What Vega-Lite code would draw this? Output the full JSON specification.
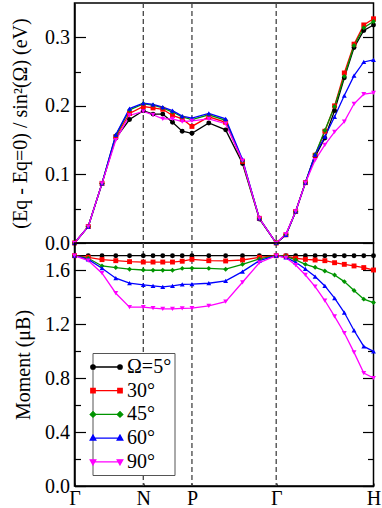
{
"$schema": "https://vega.github.io/schema/vega-lite/v6.json",
"padding": {"left": 9.5, "top": 1, "right": 5, "bottom": 0},
"spacing": 0,
"bounds": "flush",
"datasets": {
"v": [{"k": 0.7071}, {"k": 1.2071}, {"k": 2.0731}],
"d": [
{"s":"Ω=5°","k":0,"e":0,"m":1.706},{"s":"Ω=5°","k":0.1414,"e":0.024,"m":1.706},{"s":"Ω=5°","k":0.2828,"e":0.087,"m":1.706},{"s":"Ω=5°","k":0.4243,"e":0.153,"m":1.706},{"s":"Ω=5°","k":0.5657,"e":0.180,"m":1.706},{"s":"Ω=5°","k":0.7071,"e":0.193,"m":1.706},{"s":"Ω=5°","k":0.8071,"e":0.188,"m":1.706},{"s":"Ω=5°","k":0.9071,"e":0.188,"m":1.706},{"s":"Ω=5°","k":1.0071,"e":0.176,"m":1.706},{"s":"Ω=5°","k":1.1071,"e":0.163,"m":1.706},{"s":"Ω=5°","k":1.2071,"e":0.160,"m":1.706},{"s":"Ω=5°","k":1.3803,"e":0.175,"m":1.706},{"s":"Ω=5°","k":1.5535,"e":0.165,"m":1.706},{"s":"Ω=5°","k":1.7267,"e":0.116,"m":1.706},{"s":"Ω=5°","k":1.8999,"e":0.035,"m":1.706},{"s":"Ω=5°","k":2.0731,"e":0,"m":1.706},{"s":"Ω=5°","k":2.1731,"e":0.012,"m":1.706},{"s":"Ω=5°","k":2.2731,"e":0.046,"m":1.706},{"s":"Ω=5°","k":2.3731,"e":0.088,"m":1.706},{"s":"Ω=5°","k":2.4731,"e":0.126,"m":1.706},{"s":"Ω=5°","k":2.5731,"e":0.153,"m":1.706},{"s":"Ω=5°","k":2.6731,"e":0.193,"m":1.706},{"s":"Ω=5°","k":2.7731,"e":0.241,"m":1.706},{"s":"Ω=5°","k":2.8731,"e":0.285,"m":1.706},{"s":"Ω=5°","k":2.9731,"e":0.310,"m":1.706},{"s":"Ω=5°","k":3.0731,"e":0.318,"m":1.706},
{"s":"30°","k":0,"e":0,"m":1.706},{"s":"30°","k":0.1414,"e":0.024,"m":1.694},{"s":"30°","k":0.2828,"e":0.087,"m":1.677},{"s":"30°","k":0.4243,"e":0.155,"m":1.669},{"s":"30°","k":0.5657,"e":0.189,"m":1.662},{"s":"30°","k":0.7071,"e":0.199,"m":1.659},{"s":"30°","k":0.8071,"e":0.197,"m":1.659},{"s":"30°","k":0.9071,"e":0.195,"m":1.659},{"s":"30°","k":1.0071,"e":0.186,"m":1.659},{"s":"30°","k":1.1071,"e":0.181,"m":1.665},{"s":"30°","k":1.2071,"e":0.170,"m":1.679},{"s":"30°","k":1.3803,"e":0.184,"m":1.669},{"s":"30°","k":1.5535,"e":0.176,"m":1.667},{"s":"30°","k":1.7267,"e":0.119,"m":1.674},{"s":"30°","k":1.8999,"e":0.036,"m":1.694},{"s":"30°","k":2.0731,"e":0,"m":1.706},{"s":"30°","k":2.1731,"e":0.012,"m":1.703},{"s":"30°","k":2.2731,"e":0.046,"m":1.687},{"s":"30°","k":2.3731,"e":0.088,"m":1.679},{"s":"30°","k":2.4731,"e":0.128,"m":1.674},{"s":"30°","k":2.5731,"e":0.163,"m":1.669},{"s":"30°","k":2.6731,"e":0.200,"m":1.654},{"s":"30°","k":2.7731,"e":0.248,"m":1.642},{"s":"30°","k":2.8731,"e":0.290,"m":1.630},{"s":"30°","k":2.9731,"e":0.318,"m":1.618},{"s":"30°","k":3.0731,"e":0.327,"m":1.600},
{"s":"45°","k":0,"e":0,"m":1.706},{"s":"45°","k":0.1414,"e":0.024,"m":1.687},{"s":"45°","k":0.2828,"e":0.087,"m":1.630},{"s":"45°","k":0.4243,"e":0.157,"m":1.618},{"s":"45°","k":0.5657,"e":0.194,"m":1.606},{"s":"45°","k":0.7071,"e":0.203,"m":1.600},{"s":"45°","k":0.8071,"e":0.201,"m":1.598},{"s":"45°","k":0.9071,"e":0.197,"m":1.598},{"s":"45°","k":1.0071,"e":0.191,"m":1.598},{"s":"45°","k":1.1071,"e":0.184,"m":1.612},{"s":"45°","k":1.2071,"e":0.180,"m":1.613},{"s":"45°","k":1.3803,"e":0.187,"m":1.612},{"s":"45°","k":1.5535,"e":0.179,"m":1.606},{"s":"45°","k":1.7267,"e":0.120,"m":1.642},{"s":"45°","k":1.8999,"e":0.036,"m":1.682},{"s":"45°","k":2.0731,"e":0,"m":1.706},{"s":"45°","k":2.1731,"e":0.012,"m":1.700},{"s":"45°","k":2.2731,"e":0.046,"m":1.675},{"s":"45°","k":2.3731,"e":0.088,"m":1.642},{"s":"45°","k":2.4731,"e":0.129,"m":1.620},{"s":"45°","k":2.5731,"e":0.164,"m":1.593},{"s":"45°","k":2.6731,"e":0.199,"m":1.563},{"s":"45°","k":2.7731,"e":0.243,"m":1.514},{"s":"45°","k":2.8731,"e":0.288,"m":1.448},{"s":"45°","k":2.9731,"e":0.314,"m":1.384},{"s":"45°","k":3.0731,"e":0.323,"m":1.359},
{"s":"60°","k":0,"e":0,"m":1.706},{"s":"60°","k":0.1414,"e":0.024,"m":1.679},{"s":"60°","k":0.2828,"e":0.087,"m":1.613},{"s":"60°","k":0.4243,"e":0.158,"m":1.539},{"s":"60°","k":0.5657,"e":0.196,"m":1.502},{"s":"60°","k":0.7071,"e":0.204,"m":1.490},{"s":"60°","k":0.8071,"e":0.202,"m":1.482},{"s":"60°","k":0.9071,"e":0.198,"m":1.475},{"s":"60°","k":1.0071,"e":0.193,"m":1.482},{"s":"60°","k":1.1071,"e":0.185,"m":1.494},{"s":"60°","k":1.2071,"e":0.182,"m":1.495},{"s":"60°","k":1.3803,"e":0.189,"m":1.502},{"s":"60°","k":1.5535,"e":0.181,"m":1.519},{"s":"60°","k":1.7267,"e":0.122,"m":1.588},{"s":"60°","k":1.8999,"e":0.036,"m":1.669},{"s":"60°","k":2.0731,"e":0,"m":1.706},{"s":"60°","k":2.1731,"e":0.012,"m":1.694},{"s":"60°","k":2.2731,"e":0.046,"m":1.657},{"s":"60°","k":2.3731,"e":0.088,"m":1.608},{"s":"60°","k":2.4731,"e":0.129,"m":1.551},{"s":"60°","k":2.5731,"e":0.155,"m":1.482},{"s":"60°","k":2.6731,"e":0.184,"m":1.391},{"s":"60°","k":2.7731,"e":0.215,"m":1.285},{"s":"60°","k":2.8731,"e":0.244,"m":1.152},{"s":"60°","k":2.9731,"e":0.264,"m":1.034},{"s":"60°","k":3.0731,"e":0.267,"m":0.997},
{"s":"90°","k":0,"e":0,"m":1.706},{"s":"90°","k":0.1414,"e":0.024,"m":1.670},{"s":"90°","k":0.2828,"e":0.087,"m":1.576},{"s":"90°","k":0.4243,"e":0.150,"m":1.428},{"s":"90°","k":0.5657,"e":0.186,"m":1.325},{"s":"90°","k":0.7071,"e":0.192,"m":1.325},{"s":"90°","k":0.8071,"e":0.187,"m":1.317},{"s":"90°","k":0.9071,"e":0.181,"m":1.312},{"s":"90°","k":1.0071,"e":0.181,"m":1.312},{"s":"90°","k":1.1071,"e":0.177,"m":1.315},{"s":"90°","k":1.2071,"e":0.178,"m":1.317},{"s":"90°","k":1.3803,"e":0.181,"m":1.335},{"s":"90°","k":1.5535,"e":0.174,"m":1.366},{"s":"90°","k":1.7267,"e":0.120,"m":1.509},{"s":"90°","k":1.8999,"e":0.036,"m":1.654},{"s":"90°","k":2.0731,"e":0,"m":1.706},{"s":"90°","k":2.1731,"e":0.013,"m":1.690},{"s":"90°","k":2.2731,"e":0.046,"m":1.637},{"s":"90°","k":2.3731,"e":0.088,"m":1.563},{"s":"90°","k":2.4731,"e":0.121,"m":1.477},{"s":"90°","k":2.5731,"e":0.143,"m":1.374},{"s":"90°","k":2.6731,"e":0.162,"m":1.256},{"s":"90°","k":2.7731,"e":0.177,"m":1.133},{"s":"90°","k":2.8731,"e":0.203,"m":0.990},{"s":"90°","k":2.9731,"e":0.217,"m":0.837},{"s":"90°","k":3.0731,"e":0.219,"m":0.800}
]
},
"config": {
"view": {"stroke": "black", "strokeWidth": 1.5},
"font": "Liberation Serif",
"axis": {"labelFont": "Liberation Serif", "labelFontSize": 20, "labelColor": "black", "titleFont": "Liberation Serif", "titleFontSize": 20, "titleFontWeight": "normal", "titleColor": "black", "domainColor": "black", "domainWidth": 1.5, "tickColor": "black", "tickWidth": 1.2, "grid": false, "labelOverlap": false, "labelFlush": false}
},
"vconcat": [
{
"width": 299, "height": 240,
"layer": [
{"layer": [
{"data": {"name": "v"}, "mark": {"type": "rule", "color": "#444444", "strokeDash": [5, 3], "strokeWidth": 1.3},
 "encoding": {"x": {"field": "k", "type": "quantitative", "scale": {"domain": [0, 3.0731], "nice": false, "zero": false}, "axis": null}}},
{"data": {"name": "d"}, "mark": {"type": "line", "strokeWidth": 1.3},
 "encoding": {
  "x": {"field": "k", "type": "quantitative", "scale": {"domain": [0, 3.0731], "nice": false, "zero": false}, "axis": null},
  "y": {"field": "e", "type": "quantitative", "scale": {"domain": [0, 0.35], "nice": false, "zero": false},
   "axis": {"orient": "left", "values": [0, 0.1, 0.2, 0.3], "format": ".1f", "tickSize": -11, "labelPadding": 16, "title": "(Eq - Eq=0) / sin²(Ω) (eV)", "titlePadding": 14, "minExtent": 30, "maxExtent": 30}},
  "color": {"field": "s", "type": "nominal", "scale": {"domain": ["Ω=5°", "30°", "45°", "60°", "90°"], "range": ["#000000", "#ff0000", "#009400", "#0000ff", "#ff00ff"]},
   "legend": {"title": null, "orient": "none", "legendX": 18, "legendY": 350, "direction": "vertical", "padding": 3, "strokeColor": "#555555", "fillColor": "white", "labelFont": "Liberation Serif", "labelFontSize": 20, "labelColor": "black", "symbolSize": 400, "labelOffset": 9.5, "rowPadding": 2.7, "symbolStrokeWidth": 1.3, "symbolOpacity": 1,
    "encode": {"symbols": {"update": {
     "shape": {"signal": "datum.value === 'Ω=5°' ? 'M-1.35,0H1.35M-1.13,0A0.22,0.22,0,1,1,-1.57,0A0.22,0.22,0,1,1,-1.13,0ZM1.57,0A0.22,0.22,0,1,1,1.13,0A0.22,0.22,0,1,1,1.57,0Z' : datum.value === '30°' ? 'M-1.35,0H1.35M-1.57,-0.22H-1.13V0.22H-1.57ZM1.13,-0.22H1.57V0.22H1.13Z' : datum.value === '45°' ? 'M-1.35,0H1.35M-1.35,-0.28L-1.07,0L-1.35,0.28L-1.63,0ZM1.35,-0.28L1.63,0L1.35,0.28L1.07,0Z' : datum.value === '60°' ? 'M-1.35,0H1.35M-1.35,-0.3L-1.07,0.2L-1.63,0.2ZM1.35,-0.3L1.63,0.2L1.07,0.2Z' : 'M-1.35,0H1.35M-1.35,0.3L-1.07,-0.2L-1.63,-0.2ZM1.35,0.3L1.63,-0.2L1.07,-0.2Z'"},
     "fill": {"signal": "datum.value === 'Ω=5°' ? '#000000' : datum.value === '30°' ? '#ff0000' : datum.value === '45°' ? '#009400' : datum.value === '60°' ? '#0000ff' : '#ff00ff'"},
     "stroke": {"signal": "datum.value === 'Ω=5°' ? '#000000' : datum.value === '30°' ? '#ff0000' : datum.value === '45°' ? '#009400' : datum.value === '60°' ? '#0000ff' : '#ff00ff'"},
     "strokeWidth": {"value": 1.3}, "opacity": {"value": 1}}}}}}
 }},
{"data": {"name": "d"}, "mark": {"type": "point", "filled": true, "opacity": 1, "size": 24},
 "encoding": {
  "x": {"field": "k", "type": "quantitative", "scale": {"domain": [0, 3.0731], "nice": false, "zero": false}, "axis": null},
  "y": {"field": "e", "type": "quantitative", "scale": {"domain": [0, 0.35], "nice": false, "zero": false}},
  "color": {"field": "s", "type": "nominal", "scale": {"domain": ["Ω=5°", "30°", "45°", "60°", "90°"], "range": ["#000000", "#ff0000", "#009400", "#0000ff", "#ff00ff"]}},
  "shape": {"condition": [{"test": "datum.s === '30°'", "value": "square"}, {"test": "datum.s === '45°'", "value": "diamond"}, {"test": "datum.s === '60°'", "value": "triangle-up"}, {"test": "datum.s === '90°'", "value": "triangle-down"}], "value": "circle"}
 }}
]},
{"data": {"name": "d"}, "mark": {"type": "point", "opacity": 0},
 "encoding": {"y": {"field": "e", "type": "quantitative", "scale": {"domain": [0, 0.35], "nice": false, "zero": false},
  "axis": {"orient": "left", "values": [0.05, 0.15, 0.25], "tickSize": -6, "labels": false, "domain": false, "title": null, "minExtent": 0, "maxExtent": 0}}}},
{"data": {"name": "d"}, "mark": {"type": "point", "opacity": 0},
 "encoding": {"y": {"field": "e", "type": "quantitative", "scale": {"domain": [0, 0.35], "nice": false, "zero": false},
  "axis": {"orient": "right", "values": [0, 0.1, 0.2, 0.3], "tickSize": -11, "labels": false, "domain": false, "title": null, "minExtent": 0, "maxExtent": 0}}}},
{"data": {"name": "d"}, "mark": {"type": "point", "opacity": 0},
 "encoding": {"y": {"field": "e", "type": "quantitative", "scale": {"domain": [0, 0.35], "nice": false, "zero": false},
  "axis": {"orient": "right", "values": [0.05, 0.15, 0.25], "tickSize": -6, "labels": false, "domain": false, "title": null, "minExtent": 0, "maxExtent": 0}}}}
],
"resolve": {"scale": {"y": "independent"}}
},
{
"width": 299, "height": 243,
"layer": [
{"layer": [
{"data": {"name": "v"}, "mark": {"type": "rule", "color": "#444444", "strokeDash": [5, 3], "strokeWidth": 1.3},
 "encoding": {"x": {"field": "k", "type": "quantitative", "scale": {"domain": [0, 3.0731], "nice": false, "zero": false},
  "axis": {"orient": "bottom", "values": [0, 0.7071, 1.2071, 2.0731, 3.0731], "labelExpr": "datum.value < 0.1 ? 'Γ' : datum.value < 1 ? 'N' : datum.value < 1.5 ? 'P' : datum.value < 2.5 ? 'Γ' : 'H'", "tickSize": -3, "labelPadding": 5, "title": null}}}},
{"data": {"name": "d"}, "mark": {"type": "line", "strokeWidth": 1.3},
 "encoding": {
  "x": {"field": "k", "type": "quantitative", "scale": {"domain": [0, 3.0731], "nice": false, "zero": false},
   "axis": {"orient": "bottom", "values": [0, 0.7071, 1.2071, 2.0731, 3.0731], "labelExpr": "datum.value < 0.1 ? 'Γ' : datum.value < 1 ? 'N' : datum.value < 1.5 ? 'P' : datum.value < 2.5 ? 'Γ' : 'H'", "tickSize": -3, "labelPadding": 5, "title": null}},
  "y": {"field": "m", "type": "quantitative", "scale": {"domain": [0, 1.8], "nice": false, "zero": false},
   "axis": {"orient": "left", "values": [0, 0.4, 0.8, 1.2, 1.6], "format": ".1f", "tickSize": -11, "labelPadding": 16, "title": "Moment (μB)", "titlePadding": 11, "minExtent": 30, "maxExtent": 30}},
  "color": {"field": "s", "type": "nominal", "scale": {"domain": ["Ω=5°", "30°", "45°", "60°", "90°"], "range": ["#000000", "#ff0000", "#009400", "#0000ff", "#ff00ff"]},
   "legend": {"title": null, "orient": "none", "legendX": 18, "legendY": 350, "direction": "vertical", "padding": 3, "strokeColor": "#555555", "fillColor": "white", "labelFont": "Liberation Serif", "labelFontSize": 20, "labelColor": "black", "symbolSize": 400, "labelOffset": 9.5, "rowPadding": 2.7, "symbolStrokeWidth": 1.3, "symbolOpacity": 1,
    "encode": {"symbols": {"update": {
     "shape": {"signal": "datum.value === 'Ω=5°' ? 'M-1.35,0H1.35M-1.13,0A0.22,0.22,0,1,1,-1.57,0A0.22,0.22,0,1,1,-1.13,0ZM1.57,0A0.22,0.22,0,1,1,1.13,0A0.22,0.22,0,1,1,1.57,0Z' : datum.value === '30°' ? 'M-1.35,0H1.35M-1.57,-0.22H-1.13V0.22H-1.57ZM1.13,-0.22H1.57V0.22H1.13Z' : datum.value === '45°' ? 'M-1.35,0H1.35M-1.35,-0.28L-1.07,0L-1.35,0.28L-1.63,0ZM1.35,-0.28L1.63,0L1.35,0.28L1.07,0Z' : datum.value === '60°' ? 'M-1.35,0H1.35M-1.35,-0.3L-1.07,0.2L-1.63,0.2ZM1.35,-0.3L1.63,0.2L1.07,0.2Z' : 'M-1.35,0H1.35M-1.35,0.3L-1.07,-0.2L-1.63,-0.2ZM1.35,0.3L1.63,-0.2L1.07,-0.2Z'"},
     "fill": {"signal": "datum.value === 'Ω=5°' ? '#000000' : datum.value === '30°' ? '#ff0000' : datum.value === '45°' ? '#009400' : datum.value === '60°' ? '#0000ff' : '#ff00ff'"},
     "stroke": {"signal": "datum.value === 'Ω=5°' ? '#000000' : datum.value === '30°' ? '#ff0000' : datum.value === '45°' ? '#009400' : datum.value === '60°' ? '#0000ff' : '#ff00ff'"},
     "strokeWidth": {"value": 1.3}, "opacity": {"value": 1}}}}}}
 }},
{"data": {"name": "d"}, "mark": {"type": "point", "filled": true, "opacity": 1, "size": 24},
 "encoding": {
  "x": {"field": "k", "type": "quantitative", "scale": {"domain": [0, 3.0731], "nice": false, "zero": false},
   "axis": {"orient": "bottom", "values": [0, 0.7071, 1.2071, 2.0731, 3.0731], "labelExpr": "datum.value < 0.1 ? 'Γ' : datum.value < 1 ? 'N' : datum.value < 1.5 ? 'P' : datum.value < 2.5 ? 'Γ' : 'H'", "tickSize": -3, "labelPadding": 5, "title": null}},
  "y": {"field": "m", "type": "quantitative", "scale": {"domain": [0, 1.8], "nice": false, "zero": false}},
  "color": {"field": "s", "type": "nominal", "scale": {"domain": ["Ω=5°", "30°", "45°", "60°", "90°"], "range": ["#000000", "#ff0000", "#009400", "#0000ff", "#ff00ff"]}},
  "shape": {"condition": [{"test": "datum.s === '30°'", "value": "square"}, {"test": "datum.s === '45°'", "value": "diamond"}, {"test": "datum.s === '60°'", "value": "triangle-up"}, {"test": "datum.s === '90°'", "value": "triangle-down"}], "value": "circle"}
 }}
]},
{"data": {"name": "d"}, "mark": {"type": "point", "opacity": 0},
 "encoding": {"y": {"field": "m", "type": "quantitative", "scale": {"domain": [0, 1.8], "nice": false, "zero": false},
  "axis": {"orient": "left", "values": [0.2, 0.6, 1.0, 1.4], "tickSize": -6, "labels": false, "domain": false, "title": null, "minExtent": 0, "maxExtent": 0}}}},
{"data": {"name": "d"}, "mark": {"type": "point", "opacity": 0},
 "encoding": {"y": {"field": "m", "type": "quantitative", "scale": {"domain": [0, 1.8], "nice": false, "zero": false},
  "axis": {"orient": "right", "values": [0, 0.4, 0.8, 1.2, 1.6], "tickSize": -11, "labels": false, "domain": false, "title": null, "minExtent": 0, "maxExtent": 0}}}},
{"data": {"name": "d"}, "mark": {"type": "point", "opacity": 0},
 "encoding": {"y": {"field": "m", "type": "quantitative", "scale": {"domain": [0, 1.8], "nice": false, "zero": false},
  "axis": {"orient": "right", "values": [0.2, 0.6, 1.0, 1.4], "tickSize": -6, "labels": false, "domain": false, "title": null, "minExtent": 0, "maxExtent": 0}}}}
],
"resolve": {"scale": {"y": "independent"}}
}
]
}
